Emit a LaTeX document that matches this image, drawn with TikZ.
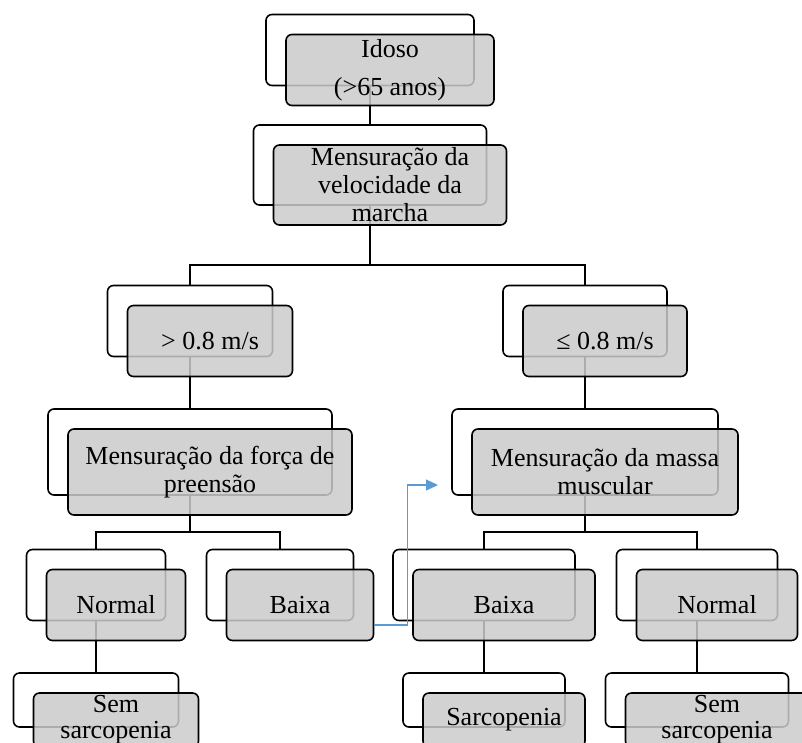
\documentclass[tikz,border=0pt]{standalone}
\usepackage{fontspec}
\setmainfont{Liberation Serif}
\definecolor{BoxGray}{HTML}{CBCBCB}
\definecolor{LinkBlue}{HTML}{5B9BD5}
\usetikzlibrary{positioning,arrows.meta,calc}

\begin{document}
\begin{tikzpicture}[x=1pt, y=-1pt,
    back/.style={draw, line width=1.6pt, fill=white, rounded corners=6pt, inner sep=0pt},
    front/.style={draw, line width=1.6pt, fill=BoxGray, fill opacity=0.85, text opacity=1, rounded corners=6pt, inner sep=0pt, align=center, font=\fontsize{26}{28}\selectfont},
    link/.style={line width=1.6pt},
    bluelink/.style={draw=LinkBlue, line width=1.2pt, -{Triangle[length=12pt,width=11pt]}}]
  \useasboundingbox (0,0) rectangle (802,742);
  \clip (0,0) rectangle (802,742);

  % white boxes behind
  \node[back, minimum width=208pt, minimum height=71pt] (idosoB) at (370,50) {};
  \node[back, minimum width=233pt, minimum height=80pt] (velB) at (370,165) {};
  \node[back, minimum width=165pt, minimum height=71pt] (gtB) at (190,321) {};
  \node[back, minimum width=164pt, minimum height=71pt] (leB) at (585,321) {};
  \node[back, minimum width=284pt, minimum height=86pt] (forcaB) at (190,452) {};
  \node[back, minimum width=266pt, minimum height=86pt] (massaB) at (585,452) {};
  \node[back, minimum width=139pt, minimum height=71pt] (normalLB) at (96,585) {};
  \node[back, minimum width=147pt, minimum height=71pt] (baixaLB) at (280,585) {};
  \node[back, minimum width=182pt, minimum height=71pt] (baixaRB) at (484,585) {};
  \node[back, minimum width=161pt, minimum height=71pt] (normalRB) at (697,585) {};
  \node[back, minimum width=165pt, minimum height=54pt] (semLB) at (96,700) {};
  \node[back, minimum width=162pt, minimum height=54pt] (sarcB) at (484,700) {};
  \node[back, minimum width=183pt, minimum height=54pt] (semRB) at (697,700) {};

  % tree lines
  \coordinate (split1) at (370,265);
  \coordinate (split2) at (190,532);
  \coordinate (split3) at (585,532);
  \draw[link] (idosoB.south) -- (velB.north);
  \draw[link, line width=2.4pt] (velB.south) -- (split1);
  \draw[link] (gtB.north) |- (split1) -| (leB.north);
  \draw[link] (gtB.south) -- (forcaB.north);
  \draw[link] (leB.south) -- (massaB.north);
  \draw[link] (forcaB.south) -- (split2);
  \draw[link] (normalLB.north) |- (split2) -| (baixaLB.north);
  \draw[link] (massaB.south) -- (split3);
  \draw[link] (baixaRB.north) |- (split3) -| (normalRB.north);
  \draw[link] (normalLB.south) -- (semLB.north);
  \draw[link] (baixaRB.south) -- (sarcB.north);
  \draw[link] (normalRB.south) -- (semRB.north);

  % grey boxes in front
  \node[front, minimum width=208pt, minimum height=71pt] (idoso) at ([shift={(20,20)}]idosoB.center) {Idoso\\[10pt](>65 anos)};
  \node[front, minimum width=233pt, minimum height=80pt] (vel) at ([shift={(20,20)}]velB.center) {Mensuração da\\velocidade da\\marcha};
  \node[front, minimum width=165pt, minimum height=71pt] (gt) at ([shift={(20,20)}]gtB.center) {> 0.8 m/s};
  \node[front, minimum width=164pt, minimum height=71pt] (le) at ([shift={(20,20)}]leB.center) {≤ 0.8 m/s};
  \node[front, minimum width=284pt, minimum height=86pt] (forca) at ([shift={(20,20)}]forcaB.center) {Mensuração da força de\\preensão};
  \node[front, minimum width=266pt, minimum height=86pt] (massa) at ([shift={(20,20)}]massaB.center) {Mensuração da massa\\muscular};
  \node[front, minimum width=139pt, minimum height=71pt] (normalL) at ([shift={(20,20)}]normalLB.center) {Normal};
  \node[front, minimum width=147pt, minimum height=71pt] (baixaL) at ([shift={(20,20)}]baixaLB.center) {Baixa};
  \node[front, minimum width=182pt, minimum height=71pt] (baixaR) at ([shift={(20,20)}]baixaRB.center) {Baixa};
  \node[front, minimum width=161pt, minimum height=71pt] (normalR) at ([shift={(20,20)}]normalRB.center) {Normal};
  \node[front, minimum width=165pt, minimum height=54pt] (semL) at ([shift={(20,20)}]semLB.center) {Sem\\[-2pt]sarcopenia};
  \node[front, minimum width=162pt, minimum height=54pt] (sarc) at ([shift={(20,20)}]sarcB.center) {Sarcopenia};
  \node[front, minimum width=183pt, minimum height=54pt] (semR) at ([shift={(20,20)}]semRB.center) {Sem\\[-2pt]sarcopenia};

  % blue link
  \coordinate (bluetip) at (438,485);
  \draw[bluelink] ([yshift=-20pt]baixaL.east) -- ++(33,0) |- (bluetip);
\end{tikzpicture}
\end{document}
